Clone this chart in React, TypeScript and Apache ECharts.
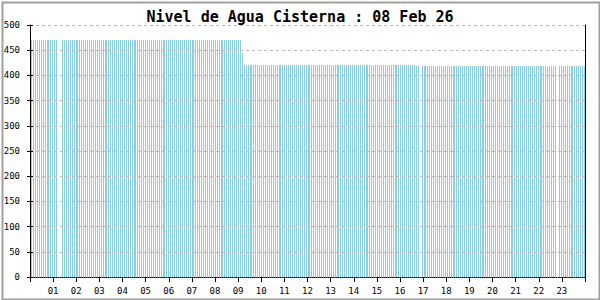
import React, { useEffect, useRef } from "react";
import * as echarts from "echarts";

const titleText = "Nivel de Agua Cisterna : 08 Feb 26";
const hourLabels = ["01","02","03","04","05","06","07","08","09","10","11","12","13","14","15","16","17","18","19","20","21","22","23"];
const yTicks = [0, 50, 100, 150, 200, 250, 300, 350, 400, 450, 500];

// sampling: first reading at ~00:01:27, then one reading every ~5 min 1 s (287 readings in the day)
const FIRST_SAMPLE_MIN = 1.45;
const SAMPLE_STEP_MIN = 5.0166;

// water level readings, 12 per row (null = missing reading)
const r00 = [470,470,470,470,470,470,470,470,470,470,470,470];
const r01 = [470,470,null,null,470,470,470,470,470,470,470,470];
const r02 = [470,470,470,470,470,470,470,470,470,470,470,470];
const r03 = [470,470,470,470,470,470,470,470,470,470,470,470];
const r04 = [470,470,470,470,470,470,470,470,470,470,470,470];
const r05 = [470,470,470,470,470,470,470,470,470,470,470,470];
const r06 = [470,470,470,470,470,470,470,470,470,470,470,470];
const r07 = [470,470,470,470,470,470,470,470,470,470,470,470];
const r08 = [470,470,470,470,470,470,470,470,470,470,470,470];
const r09 = [470,444,421,421,421,421,421,421,421,421,421,421];
const r10 = [421,421,421,421,421,421,421,421,421,421,421,421];
const r11 = [421,421,421,421,421,421,421,421,421,421,421,421];
const r12 = [421,421,421,421,421,421,421,421,421,421,421,421];
const r13 = [421,421,421,421,421,421,421,421,421,421,421,421];
const r14 = [421,421,421,421,421,421,421,421,421,421,421,421];
const r15 = [421,421,421,421,421,421,421,421,421,421,421,421];
const r16 = [421,421,421,421,421,421,421,419,419,null,419,419];
const r17 = [419,419,419,419,419,419,419,419,419,419,419,419];
const r18 = [419,419,419,419,419,419,419,419,419,419,419,419];
const r19 = [419,419,419,419,419,419,419,419,419,419,419,419];
const r20 = [419,419,419,419,419,419,419,419,419,419,419,419];
const r21 = [419,419,419,419,419,419,419,419,419,419,419,419];
const r22 = [419,419,419,419,419,419,419,419,null,419,419,419];
const r23 = [419,419,419,419,419,419,419,419,419,419,419];

const readingRows: (number | null)[][] = [
  r00, r01, r02, r03, r04, r05, r06, r07, r08, r09, r10, r11,
  r12, r13, r14, r15, r16, r17, r18, r19, r20, r21, r22, r23,
];

const BAR_COLOR = "#87CEEB";
const FONT = "DejaVu Sans Mono";

export default function App() {
  const ref = useRef<HTMLDivElement>(null);
  useEffect(() => {
    document.body.style.margin = "0";
    if (!ref.current) return;
    const chart = echarts.init(ref.current, null, { renderer: "svg" });
    const data: [number, number][] = [];
    let k = 0;
    readingRows.forEach((row) => {
      row.forEach((v) => {
        const tMin = FIRST_SAMPLE_MIN + k * SAMPLE_STEP_MIN;
        if (v !== null) data.push([tMin / 60, v]);
        k += 1;
      });
    });
    chart.setOption({
      animation: false,
      backgroundColor: "#ffffff",
      title: {
        text: titleText,
        left: "center",
        top: 4,
        textStyle: { fontFamily: FONT, fontSize: 15, fontWeight: "bold", color: "#000" },
      },
      graphic: [
        {
          type: "rect",
          left: 0,
          top: 0,
          shape: { x: 1, y: 1, width: 597, height: 297 },
          style: { fill: "none", stroke: "#a0a0a0", lineWidth: 2 },
          silent: true,
        },
      ],
      grid: { left: 30, right: 15, top: 25, bottom: 23 },
      xAxis: {
        type: "value",
        min: 0,
        max: 24,
        interval: 1,
        z: 3,
        axisLine: { show: true, lineStyle: { color: "#000", type: [1, 1], width: 1 } },
        axisTick: { show: true, length: 5, lineStyle: { color: "#000" } },
        splitLine: { show: false },
        axisLabel: {
          margin: 9,
          fontFamily: FONT,
          fontSize: 9,
          color: "#000",
          formatter: (v: number) => (v >= 1 && v <= hourLabels.length ? hourLabels[v - 1] : ""),
        },
      },
      yAxis: [
        {
          type: "value",
          min: 0,
          max: 500,
          interval: 50,
          position: "left",
          z: 3,
          axisLine: { show: true, lineStyle: { color: "#000" } },
          axisTick: { show: true, length: 3, lineStyle: { color: "#000" } },
          splitLine: { show: true, lineStyle: { color: "#bbbbbb", type: [3, 3] } },
          axisLabel: {
            margin: 10,
            fontFamily: FONT,
            fontSize: 9,
            color: "#000",
            formatter: (v: number) => (yTicks.includes(v) ? String(v) : ""),
          },
        },
        {
          type: "value",
          min: 0,
          max: 500,
          interval: 50,
          position: "left",
          z: 3,
          axisLine: { show: false },
          axisTick: { show: true, inside: true, length: 3, lineStyle: { color: "#000" } },
          splitLine: { show: false },
          axisLabel: { show: false },
        },
        {
          type: "value",
          min: 0,
          max: 500,
          interval: 50,
          position: "right",
          z: 3,
          axisLine: { show: true, lineStyle: { color: "#000" } },
          axisTick: { show: false },
          splitLine: { show: false },
          axisLabel: { show: false },
        },
      ],
      series: [
        {
          type: "custom",
          xAxisIndex: 0,
          yAxisIndex: 0,
          z: 2,
          data,
          renderItem: (params: any, api: any) => {
            const t = api.value(0);
            const v = api.value(1);
            const base = api.coord([t, 0]);
            const top = api.coord([t, v]);
            const x = Math.floor(base[0]) + 1;
            const y = Math.round(top[1]);
            return {
              type: "rect",
              shape: { x, y, width: 1, height: Math.round(base[1]) - y },
              style: { fill: BAR_COLOR },
            };
          },
        },
      ],
    });
    return () => chart.dispose();
  }, []);
  return <div ref={ref} style={{ position: "absolute", left: 0, top: 0, width: 600, height: 300 }} />;
}
